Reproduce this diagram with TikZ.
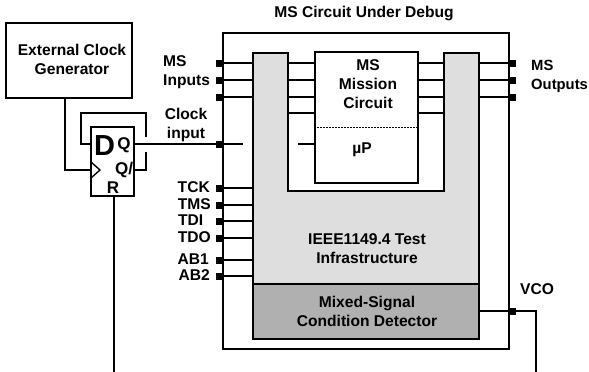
\documentclass[tikz,border=0pt]{standalone}
\usepackage{fontspec}
\setmainfont{Liberation Sans}
\usepackage{tikz}
\usetikzlibrary{positioning}
\tikzset{>=stealth}
\tikzset{
	box/.style={draw, line width=1.5pt, rectangle, inner sep=0pt},
	pinbox/.style={fill=black, rectangle, inner sep=0pt, minimum width=7pt, minimum height=7pt},
	txt/.style={font=\fontsize{15.6}{16}\selectfont\bfseries, align=center, inner sep=0pt},
	wire/.style={line width=1.4pt}
}
\definecolor{infragray}{gray}{0.87}
\definecolor{detgray}{gray}{0.69}

\begin{document}
\begin{tikzpicture}[x=1pt, y=-1pt]
	\useasboundingbox (0,0) rectangle (589,372);
	% clock generator
	\node[box, minimum width=126pt, minimum height=75pt] (EXT) at (69,60.5) {};
	\node[txt] (EXTT) at (72,59.5) {External Clock\\[3pt]Generator};
	% flip flop
	\node[box, minimum width=43pt, minimum height=69pt] (FF) at (112.5,161.5) {};
	\node[txt, font=\fontsize{29}{29}\selectfont\bfseries] (FFD) at (104.5,146) {D};
	\node[txt, font=\fontsize{17}{17}\selectfont\bfseries] (FFQ) at (124,145) {Q};
	\node[txt, font=\fontsize{17}{17}\selectfont\bfseries] (FFNQ) at (124,170) {Q/};
	\node[txt, font=\fontsize{17}{17}\selectfont\bfseries] (FFR) at (113,188) {R};
	\coordinate (CK) at (91,170);
	\coordinate (CKA) at (91,162);
	\coordinate (CKB) at (100,170);
	\coordinate (CKC) at (91,178);
	\draw [wire](CKA)--(CKB)--(CKC);
	\coordinate (EXTO) at (65,98);
	\draw [wire](EXTO)|-(CK);
	% feedback, with the gap at the Q wire
	\coordinate (FBA) at (91,144);
	\coordinate (FBB) at (81,113);
	\coordinate (FBC) at (146,137);
	\coordinate (FBD) at (146,152);
	\coordinate (FBE) at (134,170);
	\draw [wire](FBA)-|(FBB)-|(FBC);
	\draw [wire](FBD)|-(FBE);
	% circuit under debug
	\node[box, minimum width=286pt, minimum height=316pt] (DUT) at (366,191) {};
	\node[txt] (DUTT) at (364,14) {MS Circuit Under Debug};
	\coordinate (UA) at (253,53);  \coordinate (UB) at (288,191);
	\coordinate (UC) at (444,53);  \coordinate (UD) at (479,284);
	\draw [box, fill=infragray](UA)-|(UB)-|(UC)-|(UD)-|(UA)--cycle;
	\node[box, fill=detgray, minimum width=226pt, minimum height=55pt] (DET) at (366,311.5) {};
	\node[txt] (DETT) at (367,311.5) {Mixed-Signal\\[3pt]Condition Detector};
	\node[txt] (INFT) at (367,249) {IEEE1149.4 Test\\[3pt]Infrastructure};
	% mission circuit
	\node[box, fill=white, minimum width=103pt, minimum height=131pt] (MIS) at (366.5,117.5) {};
	\node[txt] (MIST) at (368,84.5) {MS\\[3pt]Mission\\[3pt]Circuit};
	\node[txt] (UP) at (362,150) {µP};
	\draw [line width=1pt, dash pattern=on 2pt off 1pt](MIS.west |- 0,127)--(MIS.east |- 0,127);
	% pins on the left
	\node[pinbox] (I1) at (219.5,63) {};
	\node[pinbox] (I2) at (219.5,80) {};
	\node[pinbox] (I3) at (219.5,97) {};
	\node[pinbox] (CI) at (219.5,144) {};
	\node[pinbox] (TCK) at (219.5,188) {};
	\node[pinbox] (TMS) at (219.5,205) {};
	\node[pinbox] (TDI) at (219.5,221) {};
	\node[pinbox] (TDO) at (219.5,238) {};
	\node[pinbox] (AB1) at (219.5,260) {};
	\node[pinbox] (AB2) at (219.5,276) {};
	\draw [wire](I1)--(I1 -| UA); \draw [wire](I2)--(I2 -| UA); \draw [wire](I3)--(I3 -| UA);
	\draw [wire](TCK)--(TCK -| UA); \draw [wire](TMS)--(TMS -| UA); \draw [wire](TDI)--(TDI -| UA);
	\draw [wire](TDO)--(TDO -| UA); \draw [wire](AB1)--(AB1 -| UA); \draw [wire](AB2)--(AB2 -| UA);
	\coordinate (CIE) at (243,144);
	\coordinate (UPS) at (298,144);
	\draw [wire](FF.east |- CI)--(CIE);
	\draw [wire](UPS)--(UPS -| MIS.west);
	% pins on the right
	\node[pinbox] (O1) at (512.5,63) {};
	\node[pinbox] (O2) at (512.5,80) {};
	\node[pinbox] (O3) at (512.5,97) {};
	\node[pinbox] (VP) at (512.5,311) {};
	\draw [wire](O1)--(O1 -| UD); \draw [wire](O2)--(O2 -| UD); \draw [wire](O3)--(O3 -| UD);
	% mission circuit to infrastructure
	\coordinate (L1) at (288,63); \coordinate (L2) at (288,80); \coordinate (L3) at (288,97); \coordinate (L4) at (288,113);
	\coordinate (R1) at (444,63); \coordinate (R2) at (444,80); \coordinate (R3) at (444,97); \coordinate (R4) at (444,113);
	\draw [wire](L1)--(L1 -| MIS.west); \draw [wire](L2)--(L2 -| MIS.west);
	\draw [wire](L3)--(L3 -| MIS.west); \draw [wire](L4)--(L4 -| MIS.west);
	\draw [wire](R1)--(R1 -| MIS.east); \draw [wire](R2)--(R2 -| MIS.east);
	\draw [wire](R3)--(R3 -| MIS.east); \draw [wire](R4)--(R4 -| MIS.east);
	% free wires
	\coordinate (RB) at (114,372);
	\coordinate (VB) at (536,372);
	\draw [wire](RB |- FF.south)--(RB);
	\draw [wire](DET.east |- VP)-|(VB);
	% pin labels
	\node[txt, align=left, anchor=west] (INL) at (163,72) {MS\\[3pt]Inputs};
	\node[txt, font=\fontsize{14.8}{16}\selectfont\bfseries, align=left, anchor=west] (OUTL) at (531,76) {MS\\[3pt]Outputs};
	\node[txt] (CIL) at (186,125) {Clock\\[3pt]input};
	\node[txt, anchor=east] (TCKL) at (210,187) {TCK};
	\node[txt, anchor=east] (TMSL) at (211,204) {TMS};
	\node[txt, anchor=west] (TDIL) at (178,220) {TDI};
	\node[txt, anchor=east] (TDOL) at (211,237) {TDO};
	\node[txt, anchor=east] (AB1L) at (209,259) {AB1};
	\node[txt, anchor=east] (AB2L) at (210,275) {AB2};
	\node[txt] (VCOL) at (537,289) {VCO};
\end{tikzpicture}
\end{document}
